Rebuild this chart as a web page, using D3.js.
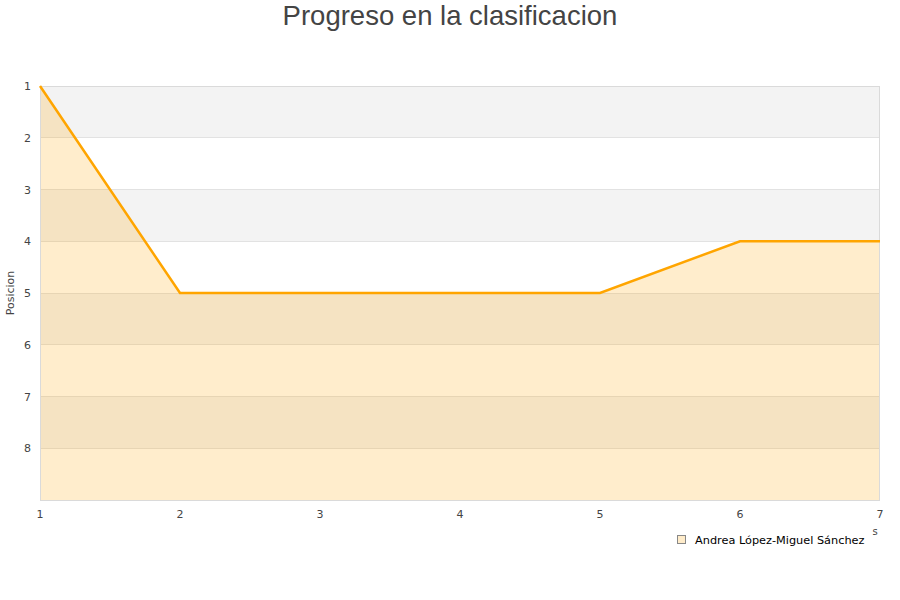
<!DOCTYPE html>
<html><head><meta charset="utf-8">
<script src="https://cdn.jsdelivr.net/npm/d3@7"></script>
<style>body{margin:0;background:#fff}svg{display:block}</style>
</head><body>
<svg id="c" width="900" height="600"></svg>
<script>
const jornadas = [1, 2, 3, 4, 5, 6, 7];
const posiciones = [1, 5, 5, 5, 5, 4, 4];
const yTicks = [1, 2, 3, 4, 5, 6, 7, 8];
const seriesName = "Andrea López-Miguel Sánchez";
const title = "Progreso en la clasificacion";

const svg = d3.select("#c");
const m = {l: 40, r: 880, t: 86, b: 500};
const x = d3.scaleLinear().domain([1, 7]).range([m.l, m.r]);
const y = d3.scaleLinear().domain([1, 9]).range([m.t, m.b]);

const bands = [1, 3, 5, 7];
svg.selectAll(".band").data(bands).enter().append("rect")
  .attr("x", m.l).attr("width", m.r - m.l)
  .attr("y", d => y(d)).attr("height", d => y(d + 1) - y(d))
  .attr("fill", "#f3f3f3");
svg.selectAll(".grid").data(yTicks.slice(1)).enter().append("line")
  .attr("x1", m.l).attr("x2", m.r).attr("y1", d => y(d)).attr("y2", d => y(d))
  .attr("stroke", "#e2e2e2").attr("stroke-width", 1).attr("shape-rendering", "crispEdges");

const pts = jornadas.map((j, i) => [j, posiciones[i]]);
const area = d3.area().x(d => x(d[0])).y0(y(9)).y1(d => y(d[1]));
svg.append("path").datum(pts).attr("d", area).attr("fill", "rgb(255,165,0)").attr("fill-opacity", 0.2);
svg.append("rect").attr("x", m.l + 0.5).attr("y", m.t + 0.5).attr("width", m.r - m.l - 1).attr("height", m.b - m.t)
  .attr("fill", "none").attr("stroke", "#dadada").attr("shape-rendering", "crispEdges");
const line = d3.line().x(d => x(d[0])).y(d => y(d[1]));
svg.append("path").datum(pts).attr("d", line).attr("fill", "none").attr("stroke", "#ffa500").attr("stroke-width", 2.5);

const fnt = "'DejaVu Sans', Verdana, sans-serif";
svg.selectAll(".yt").data(yTicks).enter().append("text")
  .attr("x", 31).attr("y", d => y(d) + 4).attr("text-anchor", "end")
  .attr("font-family", fnt).attr("font-size", 11).attr("fill", "#444").text(d => d);
svg.selectAll(".xt").data(jornadas).enter().append("text")
  .attr("x", d => x(d)).attr("y", 518).attr("text-anchor", "middle")
  .attr("font-family", fnt).attr("font-size", 11).attr("fill", "#444").text(d => d);

svg.append("text").attr("transform", "translate(14,293) rotate(-90)").attr("text-anchor", "middle")
  .attr("font-family", fnt).attr("font-size", 11).attr("fill", "#444").text("Posicion");
svg.append("text").attr("x", 875).attr("y", 535).attr("text-anchor", "middle")
  .attr("font-family", fnt).attr("font-size", 10).attr("fill", "#444").text("s");

svg.append("text").attr("x", 450).attr("y", 25).attr("text-anchor", "middle")
  .attr("font-family", "'Liberation Sans', Arial, sans-serif").attr("font-size", 27.5).attr("fill", "#444").text(title);

svg.append("rect").attr("x", 677.5).attr("y", 535.5).attr("width", 8).attr("height", 8)
  .attr("fill", "#ffecca").attr("stroke", "#888");
svg.append("text").attr("x", 695).attr("y", 543.5).attr("font-family", fnt).attr("font-size", 11.3)
  .attr("fill", "#000").text(seriesName);
</script>
</body></html>
